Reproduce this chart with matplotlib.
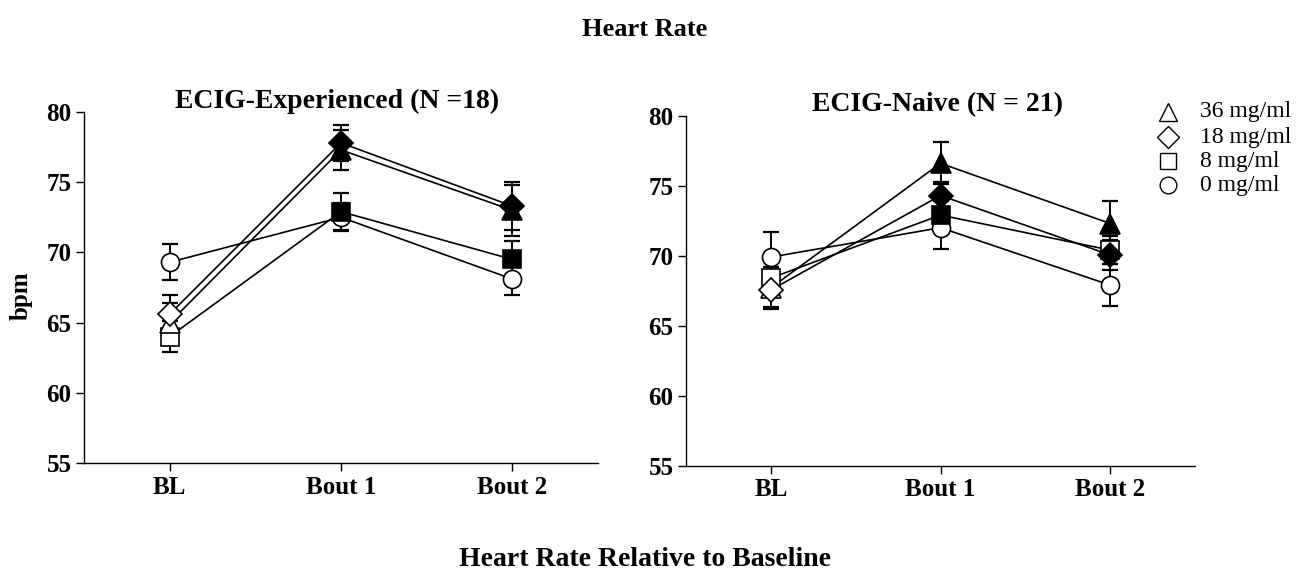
import matplotlib
matplotlib.use('Agg')
import matplotlib.pyplot as plt
from matplotlib.lines import Line2D

plt.rcParams['font.family'] = ['Liberation Serif', 'DejaVu Serif']

# data
timepoints = ['BL', 'Bout 1', 'Bout 2']
doses = ['36 mg/ml', '18 mg/ml', '8 mg/ml', '0 mg/ml']
markers = ['^', 'D', 's', 'o']

# ECIG-Experienced (N = 18)
exp_36 = [65.0, 77.3, 73.0]
exp_36_sem = [1.4, 1.4, 1.8]
exp_18 = [65.6, 77.8, 73.3]
exp_18_sem = [1.4, 1.3, 1.7]
exp_8 = [64.0, 72.9, 69.5]
exp_8_sem = [1.1, 1.3, 1.3]
exp_0 = [69.3, 72.5, 68.1]
exp_0_sem = [1.3, 1.0, 1.1]
exp_filled = [[False, True, True], [False, True, True], [False, True, True], [False, False, False]]

# ECIG-Naive (N = 21)
nai_36 = [67.7, 76.6, 72.3]
nai_36_sem = [1.5, 1.5, 1.6]
nai_18 = [67.55, 74.3, 70.05]
nai_18_sem = [1.2, 1.0, 1.1]
nai_8 = [68.4, 72.9, 70.4]
nai_8_sem = [0.8, 1.0, 1.0]
nai_0 = [69.9, 72.0, 67.9]
nai_0_sem = [1.8, 1.5, 1.5]
nai_filled = [[False, True, True], [False, True, True], [False, True, False], [False, False, False]]

W, H = 1299, 577
fig = plt.figure(figsize=(W / 100, H / 100), dpi=100)

ax1 = fig.add_axes([84 / W, 1 - 463 / H, 514 / W, 351 / H])
ax2 = fig.add_axes([686 / W, 1 - 465.7 / H, 509 / W, 350 / H])

marker_size = {'^': 14, 'D': 12, 's': 13, 'o': 13}


def draw_panel(ax, means, sems, filled):
    x = list(range(len(timepoints)))
    # back to front: circle, square, triangle, diamond
    for i in [3, 2, 0, 1]:
        ax.errorbar(x, means[i], yerr=sems[i], color='black', lw=1.2,
                    elinewidth=1.4, capsize=6, capthick=1.6, zorder=2)
        for j in x:
            ax.plot(j, means[i][j], marker=markers[i], ms=marker_size[markers[i]],
                    mfc='black' if filled[i][j] else 'white',
                    mec='black', mew=1.2, ls='none', zorder=3)
    ax.set_xlim(-0.5, 2.5)
    ax.set_ylim(55, 80)
    ax.set_yticks([55, 60, 65, 70, 75, 80])
    ax.set_xticks(x)
    ax.set_xticklabels(timepoints)
    for s in ['top', 'right']:
        ax.spines[s].set_visible(False)
    for s in ['left', 'bottom']:
        ax.spines[s].set_linewidth(1.0)
    ax.tick_params(axis='both', direction='out', length=6, width=1.0,
                   labelsize=18, pad=3)
    for lab in ax.get_xticklabels() + ax.get_yticklabels():
        lab.set_fontweight('bold')


draw_panel(ax1, [exp_36, exp_18, exp_8, exp_0],
           [exp_36_sem, exp_18_sem, exp_8_sem, exp_0_sem], exp_filled)
draw_panel(ax2, [nai_36, nai_18, nai_8, nai_0],
           [nai_36_sem, nai_18_sem, nai_8_sem, nai_0_sem], nai_filled)

fig.text(21 / W, 1 - 296 / H, 'bpm', ha='center', va='center', rotation=90,
         fontsize=18, fontweight='bold')

fig.text(645 / W, 1 - 29 / H, 'Heart Rate', ha='center', va='center',
         fontsize=19, fontweight='bold')
fig.text(337 / W, 1 - 101 / H, 'ECIG-Experienced (N =18)', ha='center',
         va='center', fontsize=20, fontweight='bold')
fig.text(938 / W, 1 - 105 / H, 'ECIG-Naive (N = 21)', ha='center',
         va='center', fontsize=20, fontweight='bold')
fig.text(645 / W, 1 - 560 / H, 'Heart Rate Relative to Baseline',
         ha='center', va='center', fontsize=20, fontweight='bold')

# legend, placed by hand
legend_y = [112, 137, 161, 185]
for m, lab, yy in zip(markers, doses, legend_y):
    fig.add_artist(Line2D([1168 / W], [1 - yy / H], transform=fig.transFigure,
                          marker=m, ls='none', mfc='white', mec='black',
                          mew=1.0, ms=marker_size[m] - 1))
    fig.text(1200 / W, 1 - yy / H, lab, ha='left', va='center', fontsize=17)

fig.savefig('out.png', dpi=100)
